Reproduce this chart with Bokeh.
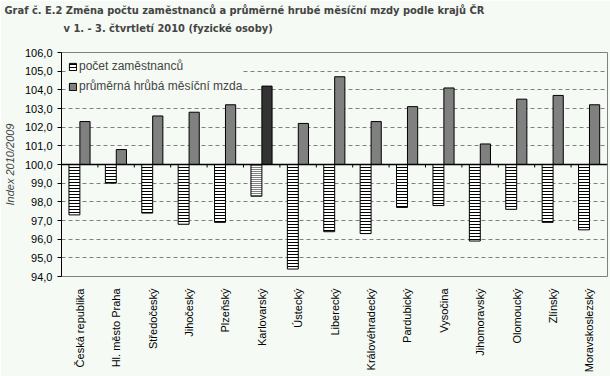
from bokeh.plotting import figure
from bokeh.models import (ColumnDataSource, FactorRange, Range1d, Span, Legend, LegendItem,
                          Title, FixedTicker)
from bokeh.transform import dodge
from bokeh.embed import file_html
from bokeh.resources import INLINE
import math

regions = ["Česká republika", "Hl. město Praha", "Středočeský", "Jihočeský", "Plzeňský",
           "Karlovarský", "Ústecký", "Liberecký", "Královéhradecký", "Pardubický",
           "Vysočina", "Jihomoravský", "Olomoucký", "Zlínský", "Moravskoslezský"]
employees = [97.3, 99.0, 97.4, 96.8, 96.9, 98.3, 94.4, 96.4, 96.3, 97.7,
             97.8, 95.9, 97.6, 96.9, 96.5]
wages = [102.3, 100.8, 102.6, 102.8, 103.2, 104.2, 102.2, 104.7, 102.3, 103.1,
         104.1, 101.1, 103.5, 103.7, 103.2]
y_ticks = [94, 95, 96, 97, 98, 99, 100, 101, 102, 103, 104, 105, 106]
highlight = "Karlovarský"
base = 100.0

BG = "#F5FAF5"
FONT = "Liberation Sans"
TFONT = "DejaVu Sans Condensed"

src = ColumnDataSource(dict(
    region=regions, emp=employees, wage=wages,
    base=[base] * len(regions),
    wcol=["#333333" if r == highlight else "#808080" for r in regions],
    hscale=[2.0 if r == highlight else 3.0 for r in regions],
))

p = figure(x_range=FactorRange(*regions, range_padding=0), y_range=Range1d(94, 106),
           frame_width=546, frame_height=224, width=610, height=376,
           output_backend="svg", toolbar_location=None,
           background_fill_color=BG, border_fill_color=BG,
           min_border_left=61, min_border_right=3, min_border_top=52, min_border_bottom=100)
p.title = None

emp_r = p.vbar(x=dodge("region", -0.145, range=p.x_range), top="emp", bottom="base", width=0.3,
               source=src, fill_color="white", line_color="black", line_width=1,
               hatch_pattern="horizontal_line", hatch_scale="hscale", hatch_color="black",
               hatch_weight=1)
wage_r = p.vbar(x=dodge("region", 0.145, range=p.x_range), top="wage", bottom="base", width=0.28,
                source=src, fill_color="wcol", line_color="black", line_width=1)

# baseline at 100 and category ticks on it
p.add_layout(Span(location=base, dimension="width", line_color="black", line_width=1.5))
n = len(regions)
tick_src = ColumnDataSource(dict(xc=[regions[i] for i in range(1, n)],
                                 y0=[base] * (n - 1), y1=[base - 0.16] * (n - 1)))
p.segment(x0=dodge("xc", -0.5, range=p.x_range), y0="y0", x1=dodge("xc", -0.5, range=p.x_range), y1="y1",
          source=tick_src, line_color="black", line_width=1)

# grid
p.xgrid.grid_line_color = None
p.ygrid.grid_line_color = "#808080"
p.ygrid.grid_line_dash = "4 3"
p.ygrid.grid_line_width = 1
p.ygrid.ticker = FixedTicker(ticks=y_ticks)

# axes
p.yaxis.ticker = FixedTicker(ticks=y_ticks)
p.yaxis.major_label_overrides = {t: f"{t:.1f}".replace(".", ",") for t in y_ticks}
p.yaxis.major_label_text_font = FONT
p.yaxis.major_label_text_font_size = "11px"
p.yaxis.major_label_text_color = "black"
p.yaxis.axis_line_color = "black"
p.yaxis.major_tick_line_color = "black"
p.yaxis.major_tick_in = 0
p.yaxis.major_tick_out = 4
p.yaxis.minor_tick_line_color = None
p.yaxis.axis_label = "Index 2010/2009"
p.yaxis.axis_label_text_font = FONT
p.yaxis.axis_label_text_font_size = "11px"
p.yaxis.axis_label_text_font_style = "italic"
p.yaxis.axis_label_standoff = 6

p.xaxis.major_label_orientation = math.pi / 2
p.xaxis.major_label_text_font = FONT
p.xaxis.major_label_text_font_size = "11px"
p.xaxis.major_label_text_color = "black"
p.xaxis.axis_line_color = None
p.xaxis.major_tick_line_color = None
p.xaxis.major_label_standoff = 6

p.outline_line_color = "#808080"
p.outline_line_width = 1

legend = Legend(items=[LegendItem(label="počet zaměstnanců", renderers=[emp_r], index=0),
                       LegendItem(label="průměrná hrůbá měsíční mzda", renderers=[wage_r], index=0)],
                location="top_left", background_fill_color=BG, background_fill_alpha=1,
                border_line_color=None, label_text_font=FONT, label_text_font_size="12px",
                glyph_width=9, glyph_height=9, spacing=6, padding=2, margin=7,
                label_standoff=2, label_height=14)
p.add_layout(legend)

spacer = Title(text=" ", text_font_size="1px", standoff=12)
t2 = Title(text="v 1. - 3. čtvrtletí 2010 (fyzické osoby)", align="left", offset=2,
           text_font=TFONT, text_font_size="11px", text_font_style="bold",
           standoff=5)
t1 = Title(text="Graf č. E.2 Změna počtu zaměstnanců a průměrné hrubé měsíční mzdy podle krajů ČR",
           align="left", offset=-57, text_font=TFONT, text_font_size="11px",
           text_font_style="bold", standoff=2)
p.add_layout(spacer, "above")
p.add_layout(t2, "above")
p.add_layout(t1, "above")

open("out.html", "w").write(file_html(p, INLINE))
